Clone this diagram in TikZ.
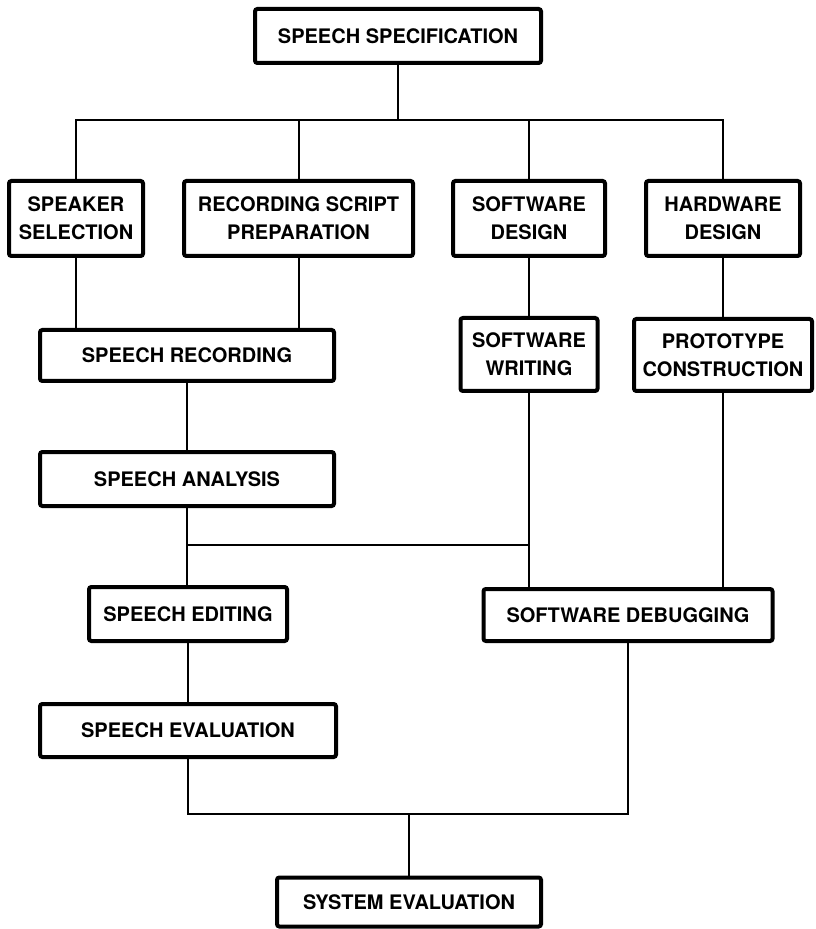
\documentclass[tikz,border=0pt]{standalone}
\usepackage{fontspec}
\setmainfont{TeX Gyre Heros}
\begin{document}
\begin{tikzpicture}[x=0.5pt,y=-0.5pt,
  box/.style={draw, line width=2pt, rounded corners=1.2pt, inner sep=0pt,
    align=center, font=\bfseries\fontsize{10pt}{14pt}\selectfont},
  wire/.style={line width=1pt}]
\useasboundingbox (0,0) rectangle (815,929);
% boxes
\node[box, minimum width=143pt, minimum height=27pt] (spec) at (398,36) {SPEECH SPECIFICATION};
\node[box, minimum width=67pt, minimum height=37.5pt] (speaker) at (76,218.5) {SPEAKER\\SELECTION};
\node[box, minimum width=114.5pt, minimum height=37.5pt] (script) at (298.5,218.5) {RECORDING SCRIPT\\PREPARATION};
\node[box, minimum width=76pt, minimum height=37.5pt] (swdesign) at (529,218.5) {SOFTWARE\\DESIGN};
\node[box, minimum width=77pt, minimum height=37.5pt] (hwdesign) at (723,218.5) {HARDWARE\\DESIGN};
\node[box, minimum width=147pt, minimum height=25.5pt] (recording) at (187,355.5) {SPEECH RECORDING};
\node[box, minimum width=68.5pt, minimum height=36.5pt] (swwriting) at (529,354.5) {SOFTWARE\\WRITING};
\node[box, minimum width=89pt, minimum height=36pt] (proto) at (723,355) {PROTOTYPE\\CONSTRUCTION};
\node[box, minimum width=147pt, minimum height=27pt] (analysis) at (187,479) {SPEECH ANALYSIS};
\node[box, minimum width=99pt, minimum height=27pt] (editing) at (188,614) {SPEECH EDITING};
\node[box, minimum width=144.5pt, minimum height=26pt] (debugging) at (628,615) {SOFTWARE DEBUGGING};
\node[box, minimum width=148pt, minimum height=26.5pt] (speecheval) at (188,730.5) {SPEECH EVALUATION};
\node[box, minimum width=132pt, minimum height=24.5pt] (syseval) at (409,902) {SYSTEM EVALUATION};
% bus levels
\coordinate (topbus) at (0,120);
\coordinate (midbus) at (0,545);
\coordinate (botbus) at (0,814);
% connectors
\draw[wire] (spec.south) -- (spec.south |- topbus);
\draw[wire] (speaker.north) -- (speaker.north |- topbus) -- (hwdesign.north |- topbus) -- (hwdesign.north);
\draw[wire] (script.north) -- (script.north |- topbus);
\draw[wire] (swdesign.north) -- (swdesign.north |- topbus);
\draw[wire] (speaker.south) -- (speaker.south |- recording.north);
\draw[wire] (script.south) -- (script.south |- recording.north);
\draw[wire] (swdesign.south) -- (swwriting.north);
\draw[wire] (hwdesign.south) -- (proto.north);
\draw[wire] (recording.south) -- (analysis.north);
\draw[wire] (analysis.south) -- (analysis.south |- editing.north);
\draw[wire] (analysis.south |- midbus) -- (swwriting.south |- midbus);
\draw[wire] (swwriting.south) -- (swwriting.south |- debugging.north);
\draw[wire] (proto.south) -- (proto.south |- debugging.north);
\draw[wire] (editing.south) -- (speecheval.north);
\draw[wire] (speecheval.south) -- (speecheval.south |- botbus) -- (debugging.south |- botbus) -- (debugging.south);
\draw[wire] (syseval.north) -- (syseval.north |- botbus);
\end{tikzpicture}
\end{document}
